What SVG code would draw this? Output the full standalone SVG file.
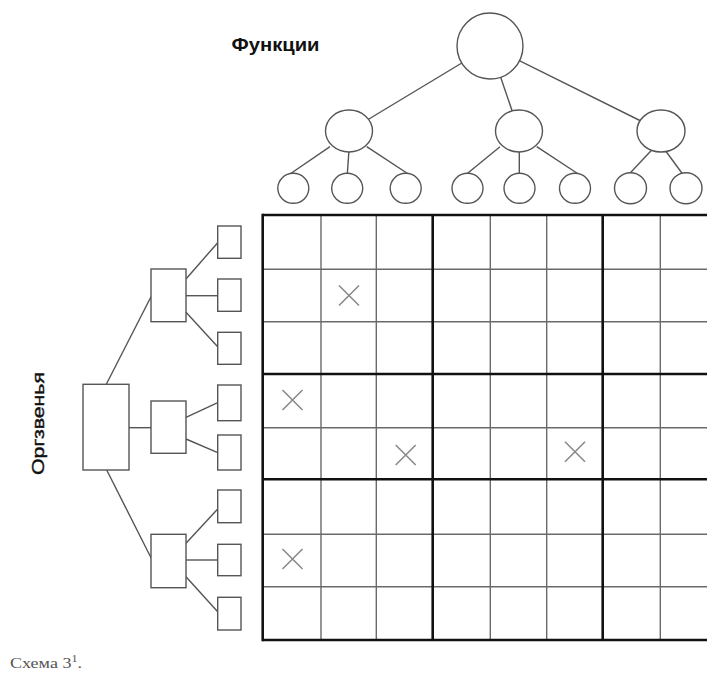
<svg xmlns="http://www.w3.org/2000/svg" width="707" height="674" viewBox="0 0 707 674">
<style>
.n{fill:#fff;stroke:#555;stroke-width:1.4}
.c{stroke:#555;stroke-width:1.4;fill:none}
.g{stroke:#6a6a6a;stroke-width:1.4}
.G{stroke:#111;stroke-width:2.6}
.x{stroke:#8a8a8a;stroke-width:1.6;fill:none}
.t{font-family:"Liberation Sans",Arial,sans-serif;fill:#111}
</style>
<rect width="707" height="674" fill="#fff"/>
<text class="t" x="231.5" y="51" font-size="19" font-weight="bold" textLength="88" lengthAdjust="spacingAndGlyphs">Функции</text>
<text class="t" transform="translate(44,475) rotate(-90)" font-size="16" textLength="103" lengthAdjust="spacingAndGlyphs" stroke="#111" stroke-width="0.4">Оргзвенья</text>
<text x="10" y="668" font-family="'Liberation Serif','Times New Roman',serif" font-size="15" fill="#555" textLength="72" lengthAdjust="spacingAndGlyphs">Схема 3<tspan font-size="10" dy="-6">1</tspan><tspan dy="6">.</tspan></text>
<g id="connectors" class="c">
<line x1="490" y1="46" x2="349" y2="131"/>
<line x1="490" y1="46" x2="519" y2="131"/>
<line x1="490" y1="46" x2="661" y2="131"/>
<line x1="330" y1="146.7" x2="290" y2="174"/>
<line x1="349" y1="150" x2="347.3" y2="174"/>
<line x1="366.7" y1="146.7" x2="408.3" y2="174"/>
<line x1="500" y1="146.7" x2="466.7" y2="174"/>
<line x1="519.3" y1="150" x2="519.3" y2="174"/>
<line x1="536.7" y1="146.7" x2="578.3" y2="174"/>
<line x1="651.7" y1="150" x2="628.3" y2="175"/>
<line x1="665" y1="150" x2="683.3" y2="175"/>
<line x1="106.3" y1="384.3" x2="151" y2="296.7"/>
<line x1="129" y1="427.7" x2="151" y2="427.7"/>
<line x1="106.7" y1="470" x2="151" y2="557.7"/>
<line x1="186" y1="279" x2="217.7" y2="242.7"/>
<line x1="186" y1="295.7" x2="217.7" y2="295.7"/>
<line x1="186" y1="312.3" x2="217.7" y2="346.7"/>
<line x1="186" y1="417.3" x2="217.7" y2="402.7"/>
<line x1="186" y1="439" x2="217.7" y2="452.7"/>
<line x1="186" y1="543.3" x2="217.7" y2="509"/>
<line x1="186" y1="560" x2="217.7" y2="560"/>
<line x1="186" y1="576.7" x2="217.7" y2="611.7"/>
</g>
<g id="f0"><circle class="n" cx="490" cy="46" r="33"/></g>
<g id="f1"><ellipse class="n" cx="349" cy="131" rx="23.5" ry="21"/></g>
<g id="f2"><ellipse class="n" cx="519" cy="131" rx="23.5" ry="21"/></g>
<g id="f3"><ellipse class="n" cx="661" cy="131" rx="24" ry="21"/></g>
<g id="f11"><ellipse class="n" cx="293.3" cy="188.3" rx="15.5" ry="15"/></g>
<g id="f12"><ellipse class="n" cx="347.2" cy="188.3" rx="15.5" ry="15"/></g>
<g id="f13"><ellipse class="n" cx="405.7" cy="188.3" rx="15.5" ry="15"/></g>
<g id="f21"><ellipse class="n" cx="467.5" cy="188.3" rx="15.5" ry="15"/></g>
<g id="f22"><ellipse class="n" cx="519.5" cy="188.3" rx="15.5" ry="15"/></g>
<g id="f23"><ellipse class="n" cx="575" cy="188.3" rx="15.5" ry="15"/></g>
<g id="f31"><ellipse class="n" cx="630.5" cy="188.3" rx="16" ry="15.5"/></g>
<g id="f32"><ellipse class="n" cx="686" cy="188.3" rx="16" ry="15.5"/></g>
<g id="o0"><rect class="n" x="83" y="384.3" width="46" height="85.7"/></g>
<g id="o1"><rect class="n" x="151" y="269" width="35" height="52.7"/></g>
<g id="o2"><rect class="n" x="151" y="401" width="35" height="52.3"/></g>
<g id="o3"><rect class="n" x="151" y="534.3" width="35" height="53.4"/></g>
<g id="o11"><rect class="n" x="217.7" y="226" width="23.3" height="32.3"/></g>
<g id="o12"><rect class="n" x="217.7" y="279" width="23.3" height="32.3"/></g>
<g id="o13"><rect class="n" x="217.7" y="332.3" width="23.3" height="32"/></g>
<g id="o21"><rect class="n" x="217.7" y="385" width="23.3" height="35.7"/></g>
<g id="o22"><rect class="n" x="217.7" y="435" width="23.3" height="35"/></g>
<g id="o31"><rect class="n" x="217.7" y="490" width="23.3" height="32.7"/></g>
<g id="o32"><rect class="n" x="217.7" y="544.3" width="23.3" height="31.4"/></g>
<g id="o33"><rect class="n" x="217.7" y="597.3" width="23.3" height="32.7"/></g>
<g id="matrix">
<g class="g">
<line x1="321" y1="215" x2="321" y2="640"/>
<line x1="376.3" y1="215" x2="376.3" y2="640"/>
<line x1="490.3" y1="215" x2="490.3" y2="640"/>
<line x1="546.7" y1="215" x2="546.7" y2="640"/>
<line x1="660.3" y1="215" x2="660.3" y2="640"/>
<line x1="262.7" y1="269.3" x2="720" y2="269.3"/>
<line x1="262.7" y1="321.7" x2="720" y2="321.7"/>
<line x1="262.7" y1="427.7" x2="720" y2="427.7"/>
<line x1="262.7" y1="534.3" x2="720" y2="534.3"/>
<line x1="262.7" y1="586.7" x2="720" y2="586.7"/>
</g>
<g class="G">
<line x1="262.7" y1="215" x2="720" y2="215"/>
<line x1="262.7" y1="374" x2="720" y2="374"/>
<line x1="262.7" y1="479.3" x2="720" y2="479.3"/>
<line x1="262.7" y1="640" x2="720" y2="640"/>
<line x1="262.7" y1="213.7" x2="262.7" y2="641.3"/>
<line x1="432.7" y1="215" x2="432.7" y2="640"/>
<line x1="602.7" y1="215" x2="602.7" y2="640"/>
</g>
<path class="x" d="M339,285.5l20,20M359,285.5l-20,20"/>
<path class="x" d="M282.5,390l20,20M302.5,390l-20,20"/>
<path class="x" d="M395.7,445l20,20M415.7,445l-20,20"/>
<path class="x" d="M565,441.7l20,20M585,441.7l-20,20"/>
<path class="x" d="M282.5,549l20,20M302.5,549l-20,20"/>
</g>
</svg>
